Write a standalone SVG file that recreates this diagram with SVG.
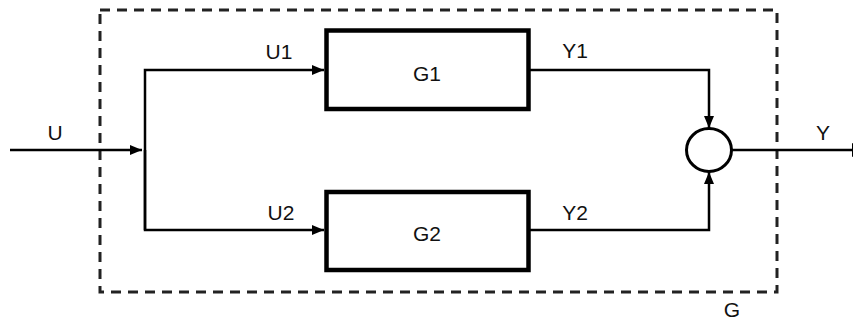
<svg xmlns="http://www.w3.org/2000/svg" width="853" height="322" viewBox="0 0 853 322">
<style>
.lbl{font-family:"Liberation Sans",Arial,sans-serif;font-size:21px;fill:#111;text-anchor:middle}
.box{fill:none;stroke:#000;stroke-width:4.5}
.wire{fill:none;stroke:#000;stroke-width:2.5}
.frame{fill:none;stroke:#222;stroke-width:3;stroke-dasharray:10 7}
</style>
<defs>
<marker id="ah" viewBox="0 0 12 10" refX="12" refY="5" markerWidth="12" markerHeight="10" markerUnits="userSpaceOnUse" orient="auto">
<path d="M0,0 L12,5 L0,10 Z" fill="#000"/>
</marker>
</defs>
<rect width="853" height="322" fill="#fff"/>
<g id="frame-G">
<rect class="frame" x="100" y="10" width="677" height="282"/>
<text class="lbl" x="732" y="317">G</text>
</g>
<g id="G1">
<rect class="box" x="326.5" y="30.5" width="202" height="78.5"/>
<text class="lbl" x="427" y="81">G1</text>
</g>
<g id="G2">
<rect class="box" x="326.5" y="192" width="202" height="78"/>
<text class="lbl" x="427" y="241">G2</text>
</g>
<g id="sum">
<ellipse cx="709" cy="150" rx="22.5" ry="21.5" fill="#fff" stroke="#000" stroke-width="3"/>
</g>
<g id="connectors">
<path class="wire" d="M10,150 H142" marker-end="url(#ah)"/>
<path class="wire" d="M145,230 V70 H324" marker-end="url(#ah)"/>
<path class="wire" d="M145,150 V230 H324" marker-end="url(#ah)"/>
<path class="wire" d="M530,70 H709 V128" marker-end="url(#ah)"/>
<path class="wire" d="M530,230 H709 V172" marker-end="url(#ah)"/>
<path class="wire" d="M731.5,150 H853"/>
<path d="M852,143 L864,150 L852,157 Z" fill="#000"/>
</g>
<g id="labels">
<text class="lbl" x="55" y="140">U</text>
<text class="lbl" x="279" y="59">U1</text>
<text class="lbl" x="281" y="220">U2</text>
<text class="lbl" x="575" y="58">Y1</text>
<text class="lbl" x="575" y="220">Y2</text>
<text class="lbl" x="823" y="140">Y</text>
</g>
</svg>
